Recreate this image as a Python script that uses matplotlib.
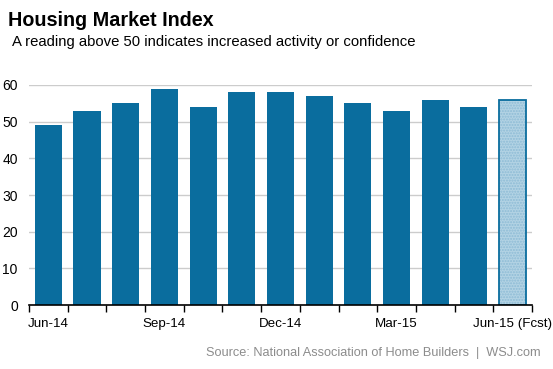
import matplotlib.pyplot as plt
import numpy as np

plt.rcParams['font.family'] = ['Liberation Sans', 'DejaVu Sans']

months = ['Jun-14', 'Jul-14', 'Aug-14', 'Sep-14', 'Oct-14', 'Nov-14', 'Dec-14',
          'Jan-15', 'Feb-15', 'Mar-15', 'Apr-15', 'May-15', 'Jun-15 (Fcst)']
index_values = [49, 53, 55, 59, 54, 58, 58, 57, 55, 53, 56, 54, 56]
is_forecast = [False] * 12 + [True]
y_ticks = [0, 10, 20, 30, 40, 50, 60]

bar_color = '#0a6d9e'
fcst_color = '#b3d3e4'
hatch_color = '#8dbbd5'

fig = plt.figure(figsize=(5.53, 3.69), dpi=100)
ax = fig.add_axes([0.0524, 0.173, 0.9096, 0.597])

x = np.arange(len(months))
for xi, val, fc in zip(x, index_values, is_forecast):
    if fc:
        # light fill, fine hatch, then a blue outline
        ax.bar(xi, val, width=0.7, color=fcst_color, linewidth=0, zorder=3)
        ax.bar(xi, val, width=0.7, fill=False, edgecolor=hatch_color,
               linewidth=0, hatch='......', zorder=3)
        ax.bar(xi, val, width=0.7, fill=False, edgecolor=bar_color,
               linewidth=1.3, zorder=3)
    else:
        ax.bar(xi, val, width=0.7, color=bar_color, zorder=3)

ax.set_xlim(-0.5, len(months) - 0.5)
ax.set_ylim(0, 60)
ax.set_yticks(y_ticks)
ax.tick_params(axis='y', length=0, labelsize=10, pad=8)
ax.yaxis.grid(True, color='#cccccc', linewidth=1, zorder=0)

# ticks at bar boundaries, labels every quarter
ax.set_xticks(np.arange(-0.5, len(months) - 0.4, 1.0))
ax.set_xticklabels([])
ax.set_xticks(x[::3], minor=True)
ax.set_xticklabels([months[i] for i in x[::3]], minor=True)
ax.tick_params(axis='x', which='major', length=5, width=1, direction='out', color='black')
ax.tick_params(axis='x', which='minor', length=0, labelsize=9.6, pad=9)

for side in ['top', 'right', 'left']:
    ax.spines[side].set_visible(False)
ax.spines['bottom'].set_linewidth(1.2)
ax.spines['bottom'].set_zorder(4)

fig.text(0.015, 0.93, 'Housing Market Index', fontsize=14.2, fontweight='bold')
fig.text(0.022, 0.875, 'A reading above 50 indicates increased activity or confidence',
         fontsize=10.7)
fig.text(0.977, 0.035, 'Source: National Association of Home Builders  |  WSJ.com',
         fontsize=9.2, color='#8c8c8c', ha='right')

fig.savefig('out.png', dpi=100)
